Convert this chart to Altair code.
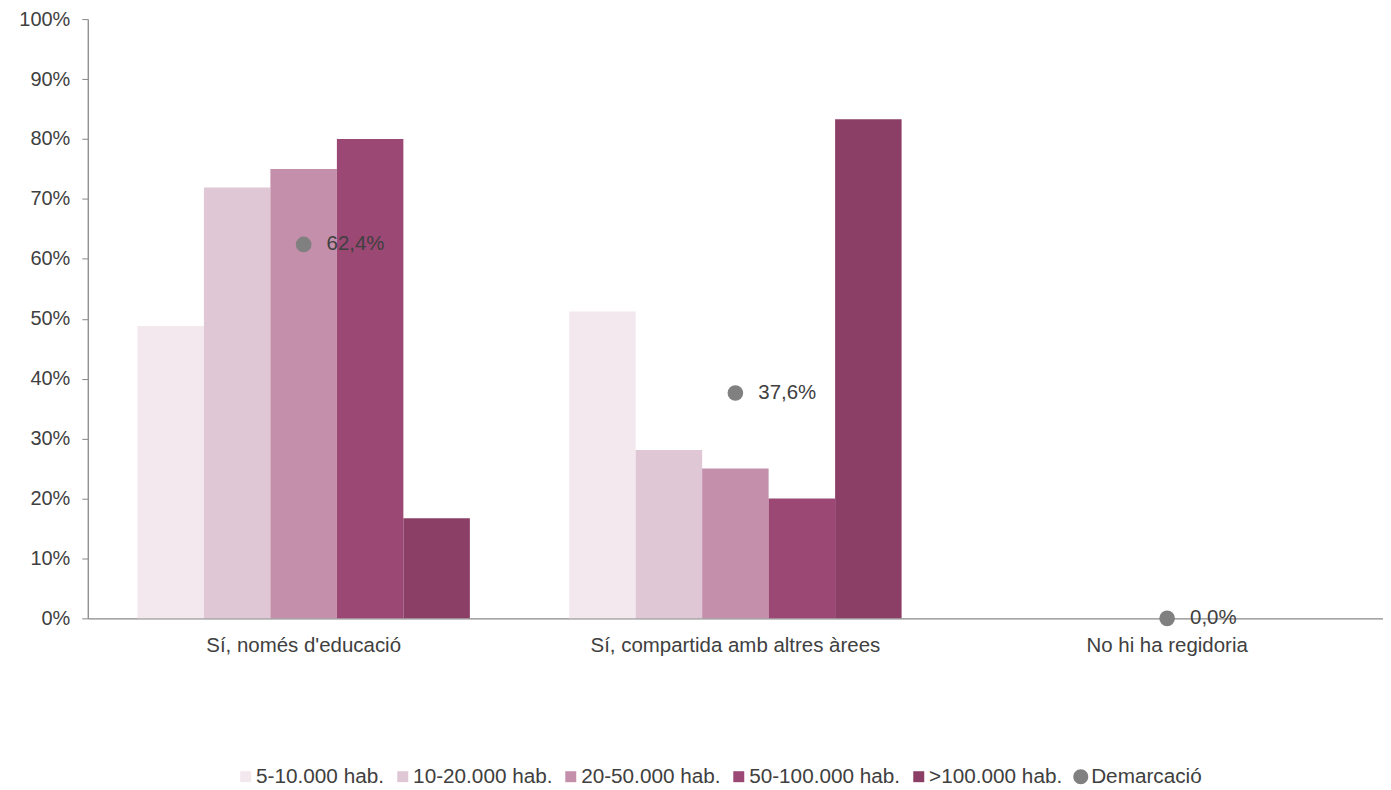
import altair as alt
import pandas as pd

categories = ["Sí, només d'educació", "Sí, compartida amb altres àrees", "No hi ha regidoria"]
series = ["5-10.000 hab.", "10-20.000 hab.", "20-50.000 hab.", "50-100.000 hab.", ">100.000 hab."]
v_5_10 = [48.8, 51.2, 0.0]
v_10_20 = [71.9, 28.1, 0.0]
v_20_50 = [75.0, 25.0, 0.0]
v_50_100 = [80.0, 20.0, 0.0]
v_100 = [16.7, 83.3, 0.0]
demarcacio = [62.4, 37.6, 0.0]

colors = ["#F3E8EE", "#DFC7D5", "#C48FAB", "#9B4874", "#8B3F67", "#808080"]
legend_domain = series + ["Demarcació"]
SQUARE = "M-1.1,-1.1H1.1V1.1H-1.1Z"
BIGCIRCLE = "M-1.5,0A1.5,1.5 0 1,1 1.5,0A1.5,1.5 0 1,1 -1.5,0Z"
shapes = [SQUARE] * 5 + [BIGCIRCLE]

rows = []
for s, vals in zip(series, [v_5_10, v_10_20, v_20_50, v_50_100, v_100]):
    for c, v in zip(categories, vals):
        rows.append({"cat": c, "serie": s, "v": v})
bars_df = pd.DataFrame(rows)
pts_df = pd.DataFrame({"cat": categories, "serie": "Demarcació", "v": demarcacio})

FONT = "Liberation Sans"
TXT = "#404040"


def make_legend():
    return alt.Legend(title=None, orient="none", direction="horizontal",
                      legendX=148, legendY=749, labelFontSize=20.8,
                      labelColor=TXT, labelFont=FONT, symbolSize=100,
                      columnPadding=7.5, labelOffset=0, symbolStrokeWidth=0,
                      symbolOpacity=1, labelLimit=0)


color_scale = alt.Scale(domain=legend_domain, range=colors)
shape_scale = alt.Scale(domain=legend_domain, range=shapes)

x_enc = alt.X("cat:N", sort=categories,
              scale=alt.Scale(domain=categories, paddingInner=0.23, paddingOuter=0.115),
              axis=alt.Axis(title=None, labelAngle=0, ticks=False, labelPadding=17,
                            labelFontSize=20.5, labelColor=TXT, labelFont=FONT,
                            labelLimit=0, domainColor="#888888", domainWidth=1.3))
y_enc = alt.Y("v:Q", scale=alt.Scale(domain=[0, 100]),
              axis=alt.Axis(title=None, values=list(range(0, 101, 10)),
                            labelExpr="datum.value + '%'", grid=False,
                            labelFontSize=20, labelColor=TXT, labelFont=FONT,
                            tickSize=6, tickColor="#888888", domainColor="#888888",
                            domainWidth=1.3, labelPadding=12))

bars = alt.Chart(bars_df).mark_bar().encode(
    x=x_enc,
    xOffset=alt.XOffset("serie:N", sort=series,
                        scale=alt.Scale(domain=series, paddingInner=0, paddingOuter=0)),
    y=y_enc,
    color=alt.Color("serie:N", scale=color_scale, legend=make_legend()),
)

# invisible layer that carries the combined colour/shape legend
legend_pts = alt.Chart(pts_df).mark_point(filled=True, opacity=0).encode(
    x=alt.X("cat:N", sort=categories),
    y=alt.Y("v:Q"),
    color=alt.Color("serie:N", scale=color_scale, legend=make_legend()),
    shape=alt.Shape("serie:N", scale=shape_scale, legend=make_legend()),
)

pts = alt.Chart(pts_df).mark_point(filled=True, size=246, opacity=1, shape="circle",
                                   color="#808080").encode(
    x=alt.X("cat:N", sort=categories),
    y=alt.Y("v:Q"),
)

labels = alt.Chart(pts_df).transform_calculate(
    lab="replace(format(datum.v, '.1f'), '.', ',') + '%'"
).mark_text(align="left", baseline="middle", dx=23, fontSize=20.5, font=FONT, color=TXT).encode(
    x=alt.X("cat:N", sort=categories),
    y=alt.Y("v:Q"),
    text="lab:N",
)

chart = alt.layer(bars, legend_pts, pts, labels).properties(
    width=1299, height=601,
    autosize=alt.AutoSizeParams(type="none"),
    padding={"left": 80, "top": 10, "right": 0, "bottom": 168},
).configure_view(stroke=None)

chart.save("out.html", embed_options={"renderer": "svg", "actions": False})
